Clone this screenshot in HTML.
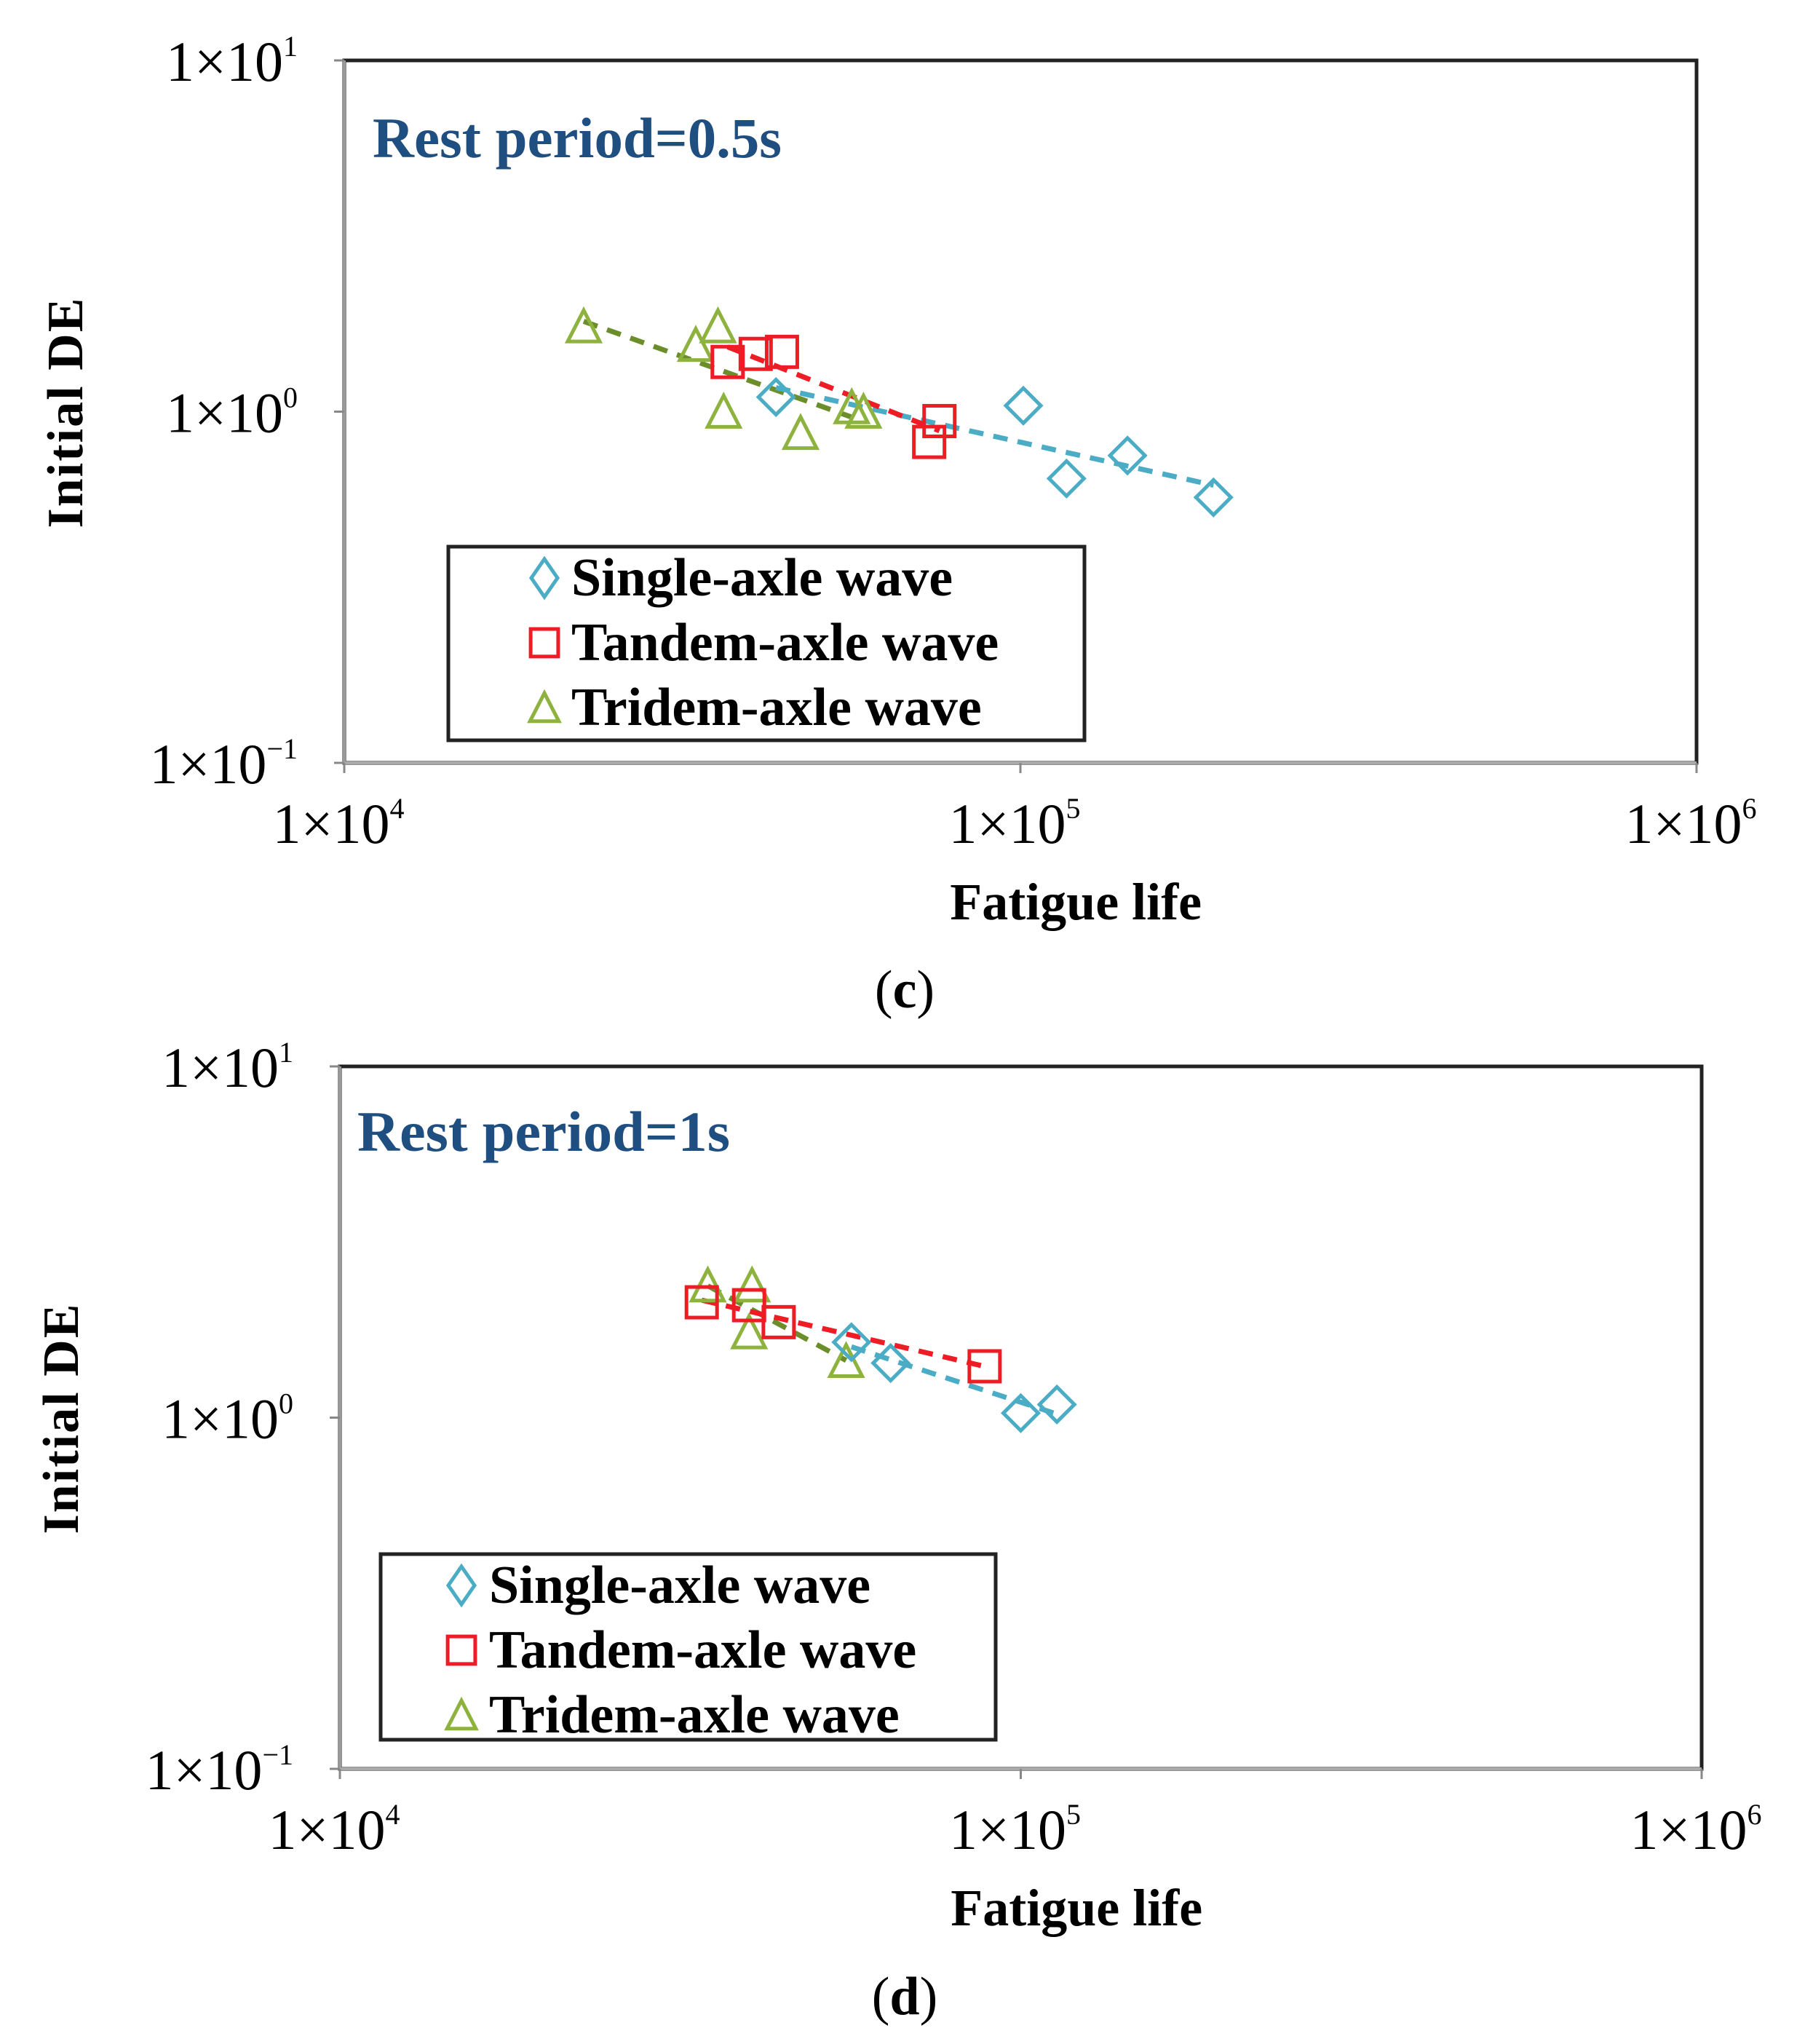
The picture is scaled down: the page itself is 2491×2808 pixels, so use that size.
<!DOCTYPE html>
<html><head><meta charset="utf-8"><style>
html,body{margin:0;padding:0;background:#fff;}
svg{display:block;font-family:"Liberation Serif",serif;}
</style></head><body>
<svg id="chart" width="2491" height="2808" viewBox="0 0 2491 2808" xmlns="http://www.w3.org/2000/svg">
<rect width="2491" height="2808" fill="#fff"/>
<g id="panelC"></g>
<g id="panelD"></g>
<text x="1243" y="1384" text-anchor="middle" font-size="74">(<tspan font-weight="bold">c</tspan>)</text>
<text x="1243" y="2767" text-anchor="middle" font-size="74">(<tspan font-weight="bold">d</tspan>)</text>
</svg>
<script>
// Panel (c) data
const cSingleX=[43500,101000,117000,144000,193000];
const cSingleY=[1.10,1.04,0.645,0.75,0.57];
const cTandemX=[36900,40600,44400,73300,75900];
const cTandemY=[1.385,1.46,1.48,0.82,0.94];
const cTridemX=[22600,33100,35700,36400,47300,56300,58600];
const cTridemY=[1.75,1.55,1.75,1.0,0.87,1.03,1.0];
// Panel (d) data
const dSingleX=[56400,64400,100000,113000];
const dSingleY=[1.64,1.43,1.03,1.09];
const dTandemX=[34000,39900,44100,88500];
const dTandemY=[2.13,2.09,1.87,1.40];
const dTridemX=[34700,40300,39900,55400];
const dTridemY=[2.38,2.38,1.75,1.45];
const xTickVals=[1e4,1e5,1e6];
const xTickExp=["4","5","6"];
const yTickVals=[0.1,1,10];
const yTickExp=["−1","0","1"];
const legendLabels=["Single-axle wave","Tandem-axle wave","Tridem-axle wave"];

const NS="http://www.w3.org/2000/svg";
const COL={s:"#4bacc6",t:"#ee1c25",r:"#8db33e",rl:"#6b8e2a"};
function mk(tag,attrs,parent){const e=document.createElementNS(NS,tag);for(const k in attrs)e.setAttribute(k,attrs[k]);parent.appendChild(e);return e;}

function marker(g,type,cx,cy,sc){
  let e;
  if(type==="s"){const h=24*sc,w=24*sc;e=mk("polygon",{points:`${cx},${cy-h} ${cx+w},${cy} ${cx},${cy+h} ${cx-w},${cy}`,fill:"none",stroke:COL.s,"stroke-width":5},g);}
  else if(type==="t"){const h=21*sc;e=mk("rect",{x:cx-h,y:cy-h,width:2*h,height:2*h,fill:"none",stroke:COL.t,"stroke-width":5},g);}
  else {const h=22*sc;e=mk("polygon",{points:`${cx},${cy-h} ${cx+h},${cy+h*0.95} ${cx-h},${cy+h*0.95}`,fill:"none",stroke:COL.r,"stroke-width":5},g);}
  return e;
}

function drawPanel(gid,P,series,title,titleLen,leg){
  const g=document.getElementById(gid);
  const xs=v=>P.l+(Math.log10(v)-4)/2*(P.r-P.l);
  const ys=v=>P.b-(Math.log10(v)+1)/2*(P.b-P.t);
  const fr=mk("rect",{x:P.l,y:P.t,width:P.r-P.l,height:P.b-P.t,fill:"none",stroke:"#222","stroke-width":5},g);
  
  
  mk("line",{x1:P.l,y1:P.t,x2:P.l,y2:P.b,stroke:"#999","stroke-width":4},g);
  mk("line",{x1:P.l,y1:P.b,x2:P.r,y2:P.b,stroke:"#aaa","stroke-width":4},g);
  xTickVals.forEach((v,i)=>{
    const x=xs(v);
    const tk=mk("line",{x1:x,y1:P.b,x2:x,y2:P.b+14,stroke:"#888","stroke-width":3},g);
    
    
    const t=mk("text",{x:x-8,y:P.b+110,"text-anchor":"middle","font-size":78},g);
    
    
    t.textContent="1×10";
    const s=mk("tspan",{"font-size":40,dy:-34},t);s.textContent=xTickExp[i];
  });
  yTickVals.forEach((v,i)=>{
    const y=ys(v);
    const tk=mk("line",{x1:P.l-14,y1:y,x2:P.l,y2:y,stroke:"#888","stroke-width":3},g);
    
    
    const t=mk("text",{x:P.l-64,y:y+28,"text-anchor":"end","font-size":78},g);
    
    
    t.textContent="1×10";
    const s=mk("tspan",{"font-size":40,dy:-34},t);s.textContent=yTickExp[i];
  });
  const xt=mk("text",{x:P.l+(P.r-P.l)*0.541,y:P.b+215,"text-anchor":"middle","font-size":72,"font-weight":"bold"},g);
  
  
  xt.textContent="Fatigue life";
  const ymid=(P.t+P.b)/2+2;
  const yt=mk("text",{x:0,y:0,"text-anchor":"middle","font-size":70,"font-weight":"bold",transform:`translate(${P.l-360},${ymid}) rotate(-90)`,textLength:316,lengthAdjust:"spacing"},g);
  
  
  yt.textContent="Initial DE";
  const tt=mk("text",{x:P.l+title.dx,y:P.t+title.dy,"font-size":78,"font-weight":"bold",fill:"#1f4e80",textLength:titleLen,lengthAdjust:"spacingAndGlyphs"},g);
  
  
  tt.textContent=title.text;
  series.forEach(S=>{
    const lx=S.x.map(v=>Math.log10(v)),ly=S.y.map(v=>Math.log10(v));
    const n=lx.length,mx=lx.reduce((a,b)=>a+b)/n,my=ly.reduce((a,b)=>a+b)/n;
    let sxy=0,sxx=0;for(let i=0;i<n;i++){sxy+=(lx[i]-mx)*(ly[i]-my);sxx+=(lx[i]-mx)**2;}
    const k=sxy/sxx;
    const x0=Math.min(...lx),x1=Math.max(...lx);
    const f=x=>Math.pow(10,my+k*(x-mx));
    const ln=mk("line",{x1:xs(Math.pow(10,x0)),y1:ys(f(x0)),x2:xs(Math.pow(10,x1)),y2:ys(f(x1)),stroke:S.lc,"stroke-width":7,"stroke-dasharray":"20 14"},g);
    
    
  });
  series.forEach(S=>{
    S.x.forEach((v,i)=>{
      const m=marker(g,S.type,xs(v),ys(S.y[i]),1);
      
      
    });
  });
  const lb=mk("rect",{x:leg.x,y:leg.y,width:leg.w,height:leg.h,fill:"#fff",stroke:"#222","stroke-width":5},g);
  
  
  const types=["s","t","r"];
  legendLabels.forEach((lab,i)=>{
    const by=leg.y+67+i*89;
    const m=marker(g,types[i],leg.mx,by-24,types[i]==="s"?1:0.9);
    if(types[i]==="s"){m.setAttribute("points",`${leg.mx},${by-50} ${leg.mx+18},${by-24} ${leg.mx},${by+2} ${leg.mx-18},${by-24}`);}
    
    
    const t=mk("text",{x:leg.tx,y:by,"font-size":74,"font-weight":"bold"},g);
    
    
    t.textContent=lab;
  });
}

drawPanel("panelC",{l:473,r:2331,t:83,b:1048},[
  {name:"tridem",type:"r",x:cTridemX,y:cTridemY,lc:COL.rl},
  {name:"single",type:"s",x:cSingleX,y:cSingleY,lc:COL.s},
  {name:"tandem",type:"t",x:cTandemX,y:cTandemY,lc:COL.t}
],{text:"Rest period=0.5s",dx:39,dy:133},562,{x:616,y:751,w:874,h:266,mx:748,tx:785});

drawPanel("panelD",{l:467,r:2338,t:1465,b:2430},[
  {name:"tridem",type:"r",x:dTridemX,y:dTridemY,lc:COL.rl},
  {name:"single",type:"s",x:dSingleX,y:dSingleY,lc:COL.s},
  {name:"tandem",type:"t",x:dTandemX,y:dTandemY,lc:COL.t}
],{text:"Rest period=1s",dx:24,dy:116},512,{x:523,y:2135,w:845,h:255,mx:634,tx:672});
</script>
</body></html>
